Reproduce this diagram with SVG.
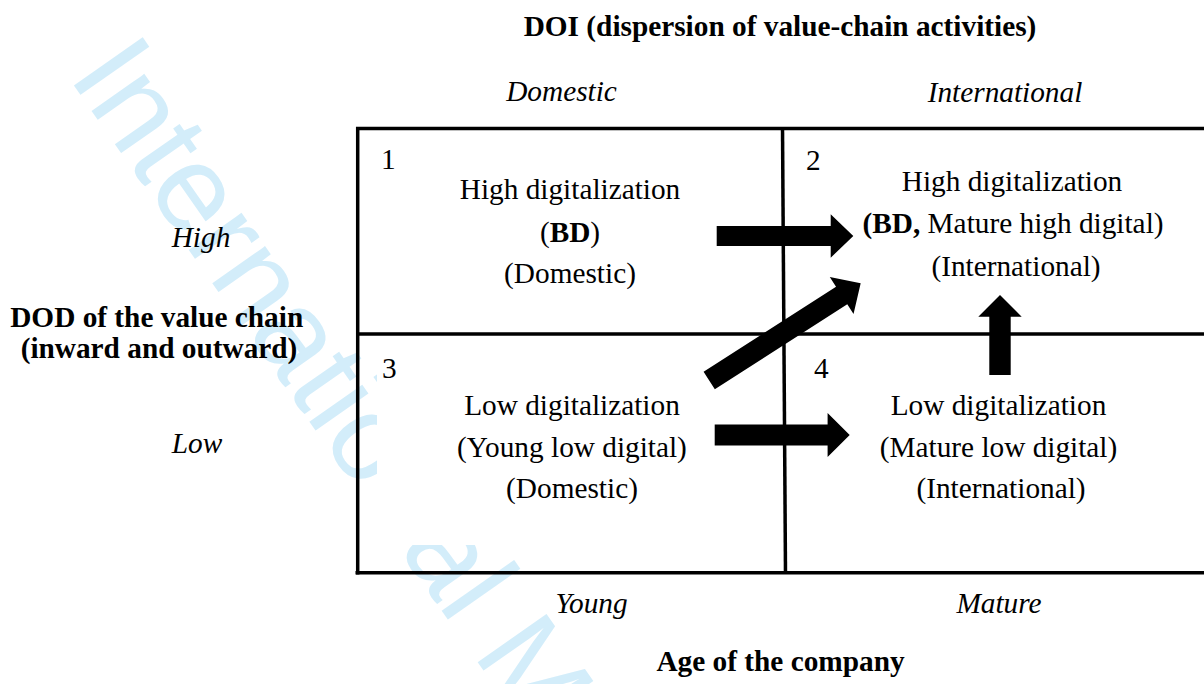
<svg xmlns="http://www.w3.org/2000/svg" width="1204" height="684" viewBox="0 0 1204 684">
<style>
  text { font-family: "Liberation Serif", "Times New Roman", serif; font-size: 29.3px; fill: #000; }
  .b { font-weight: bold; }
  .i { font-style: italic; }
  .c { text-anchor: middle; }
  .wm { font-family: "Liberation Sans", Arial, sans-serif; font-size: 122px; fill: #d3edfa; }
  .ln { stroke: #000; stroke-width: 3.5; fill: none; }
  .arrow { fill: #000; stroke: none; }
</style>
<rect x="0" y="0" width="1204" height="684" fill="#fff"/>

<g id="watermark">
  <text class="wm" transform="translate(67.4,76.2) rotate(55)">International M</text>
  <path d="M377,340 H700 V545 H360 V488 H377 Z" fill="#fff"/>
</g>

<g id="grid">
  <line class="ln" x1="356" y1="128.5" x2="1204" y2="128.5"/>
  <line class="ln" x1="357.7" y1="127" x2="357.7" y2="574.4" stroke-width="3.3"/>
  <line class="ln" x1="357" y1="334" x2="1204" y2="334" stroke-width="5"/>
  <line class="ln" x1="355.5" y1="572.7" x2="1204" y2="572.7"/>
  <line class="ln" x1="782.5" y1="127" x2="785.5" y2="574"/>
</g>

<g id="title">
  <text class="b c" x="780" y="36">DOI (dispersion of value-chain activities)</text>
</g>

<g id="axis-labels">
  <text class="i c" x="561.5" y="101">Domestic</text>
  <text class="i c" x="1005" y="101.5">International</text>
  <text class="i c" x="201" y="246.7">High</text>
  <text class="b c" x="156.7" y="326.5">DOD of the value chain</text>
  <text class="b c" x="159" y="358">(inward and outward)</text>
  <text class="i c" x="197" y="453">Low</text>
  <text class="i c" x="591.5" y="613">Young</text>
  <text class="i c" x="999" y="613">Mature</text>
  <text class="b c" x="780.5" y="671">Age of the company</text>
</g>

<g id="cell1">
  <text x="381" y="169.3">1</text>
  <text class="c" x="570" y="199.3">High digitalization</text>
  <text class="c" x="570" y="241.7">(<tspan class="b">BD</tspan>)</text>
  <text class="c" x="570" y="283.3">(Domestic)</text>
</g>

<g id="cell2">
  <text x="806" y="170">2</text>
  <text class="c" x="1012" y="191">High digitalization</text>
  <text class="c" x="1013" y="233.3"><tspan class="b">(BD,</tspan> Mature high digital)</text>
  <text class="c" x="1016" y="275.7">(International)</text>
</g>

<g id="cell3">
  <text x="382" y="378.3">3</text>
  <text class="c" x="572" y="415">Low digitalization</text>
  <text class="c" x="572" y="456.7">(Young low digital)</text>
  <text class="c" x="572" y="498.3">(Domestic)</text>
</g>

<g id="cell4">
  <text x="814" y="378.3">4</text>
  <text class="c" x="998.5" y="415">Low digitalization</text>
  <text class="c" x="998.5" y="456.7">(Mature low digital)</text>
  <text class="c" x="1001" y="498.3">(International)</text>
</g>

<g id="connectors">
  <polygon class="arrow" points="716.7,226 830.7,226 830.7,214.3 853.3,236 830.7,257.7 830.7,246 716.7,246"/>
  <polygon class="arrow" points="714.7,424.5 827.6,424.5 827.6,413 849.7,435 827.6,457 827.6,445.5 714.7,445.5"/>
  <polygon class="arrow" points="989.3,375 989.3,316.7 978.3,316.7 1000,295 1021.7,316.7 1010.7,316.7 1010.7,375"/>
  <polygon class="arrow" transform="translate(709.2,380.5) rotate(-32.7)" points="0,-10.4 157.4,-10.4 157.4,-22 180,0 157.4,22 157.4,10.4 0,10.4"/>
</g>
</svg>
